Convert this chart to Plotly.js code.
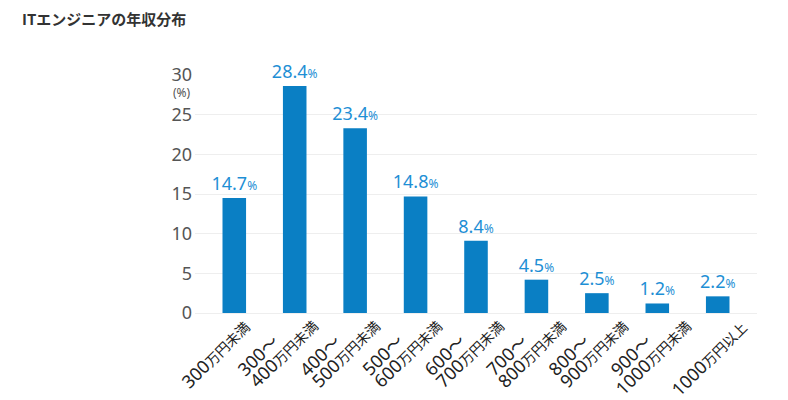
<!DOCTYPE html>
<html>
<head>
<meta charset="utf-8">
<script src="https://cdn.plot.ly/plotly-3.0.1.min.js"></script>
<style>html,body{margin:0;padding:0;background:#fff;}#chart{width:788px;height:400px;}</style>
</head>
<body>
<div id="chart"></div>
<script>
// Categories (annual income bands)
const categories = [
  "300万円未満", "300～400万円未満", "400～500万円未満", "500～600万円未満",
  "600～700万円未満", "700～800万円未満", "800～900万円未満", "900～1000万円未満", "1000万円以上"
];
// Tick labels as drawn (two-line for ranges)
const tickLabels = [
  "300<span style='font-size:14px'>万円未満</span>",
  "300～<br>400<span style='font-size:14px'>万円未満</span>",
  "400～<br>500<span style='font-size:14px'>万円未満</span>",
  "500～<br>600<span style='font-size:14px'>万円未満</span>",
  "600～<br>700<span style='font-size:14px'>万円未満</span>",
  "700～<br>800<span style='font-size:14px'>万円未満</span>",
  "800～<br>900<span style='font-size:14px'>万円未満</span>",
  "900～<br>1000<span style='font-size:14px'>万円未満</span>",
  "1000<span style='font-size:14px'>万円以上</span>"
];
// Bar heights as drawn in the picture (%)
const barHeights = [14.5, 28.6, 23.3, 14.7, 9.1, 4.2, 2.5, 1.2, 2.1];
// Value labels printed above the bars
const labelValues = ["14.7", "28.4", "23.4", "14.8", "8.4", "4.5", "2.5", "1.2", "2.2"];
const yTicks = [0, 5, 10, 15, 20, 25, 30];

const labelText = labelValues.map(v => v + "<span style='font-size:12px'>%</span>");

const trace = {
  type: "bar",
  x: categories,
  y: barHeights,
  marker: {color: "#0a7fc4"},
  text: labelText,
  textposition: "outside",
  constraintext: "none",
  cliponaxis: false,
  textfont: {family: "'Noto Sans', sans-serif", size: 18, color: "#1e8fd5"},
  hoverinfo: "none",
  width: 0.39
};

// Rotated category labels drawn as annotations, one per line
// (the reference's labels sit at a slightly wider pitch than the bars)
const labelFont = {size: 18, color: "#222", family: "'Noto Sans', 'Noto Sans CJK JP', sans-serif"};
const catAnnots = [];
categories.forEach((c, i) => {
  const lines = tickLabels[i].split("<br>");
  const drift = i * 1.7;
  const base = {xref: "x", yref: "paper", x: c, y: 0, textangle: -45,
                xanchor: "right", yanchor: "top", showarrow: false, font: labelFont};
  if (lines.length === 1) {
    catAnnots.push(Object.assign({}, base, {text: lines[0], xshift: 23 + drift, yshift: 1}));
  } else {
    catAnnots.push(Object.assign({}, base, {text: lines[1], xshift: 29 + drift, yshift: 2}));
    catAnnots.push(Object.assign({}, base, {text: lines[0], xshift: -10 + drift, yshift: -13}));
  }
});

const layout = {
  width: 788, height: 400,
  margin: {l: 195, r: 31, t: 75, b: 87},
  paper_bgcolor: "#fff", plot_bgcolor: "#fff",
  showlegend: false,
  font: {family: "'Noto Sans CJK JP', 'Noto Sans', sans-serif", color: "#222"},
  title: {
    text: "<b>ITエンジニアの年収分布</b>",
    xref: "container", yref: "container",
    x: 22/788, xanchor: "left",
    y: 1 - 20/400, yanchor: "middle",
    font: {size: 15, color: "#333", family: "'Noto Sans CJK JP', sans-serif"}
  },
  xaxis: {
    type: "category",
    range: [-0.65, 8.65],
    showticklabels: false,
    showgrid: false, zeroline: false, showline: false, ticks: ""
  },
  yaxis: {
    range: [0, 30],
    tickvals: yTicks,
    tickfont: {size: 18, color: "#555", family: "'Noto Sans', sans-serif"},
    gridcolor: "#eeeeee", gridwidth: 1,
    zeroline: true, zerolinecolor: "#eeeeee", zerolinewidth: 1,
    showline: false, ticks: "", ticklabelstandoff: 2
  },
  annotations: [{
    text: "(%)", xref: "paper", yref: "paper",
    x: 0, y: 1 - 18/238, xanchor: "right", yanchor: "middle", xshift: -2,
    showarrow: false, font: {size: 12, color: "#555", family: "'Noto Sans', sans-serif"}
  }].concat(catAnnots)
};

Plotly.newPlot("chart", [trace], layout, {displayModeBar: false, staticPlot: true});
</script>
</body>
</html>
